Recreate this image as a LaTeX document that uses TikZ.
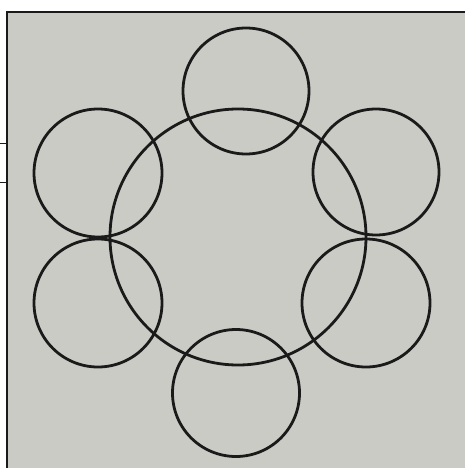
\documentclass[tikz,border=0pt]{standalone}
\usepackage{tikz}
\definecolor{Board}{HTML}{CBCBC6}
\definecolor{Ink}{HTML}{1A1A1A}
\tikzset{ring/.style={draw=Ink,circle,line width=2.8pt,inner sep=0pt},frame/.style={draw=Ink,line width=1.6pt}}

\begin{document}
\begin{tikzpicture}[x=1pt,y=-1pt]
\useasboundingbox (0,0) rectangle (465,468);
\fill[Board] (7,12) rectangle (465,468);
\draw[frame] (7,468) -- (7,12) -- (465,12);
\draw[frame,line width=1pt] (0,143) -- (7,143);
\draw[frame,line width=1pt] (0,182) -- (7,182);
\node[ring,minimum size=256pt] (hub) at (238,237) {};
\node[ring,minimum size=126pt] (top) at (246,91) {};
\node[ring,minimum size=128pt] (upleft) at (98,173) {};
\node[ring,minimum size=126pt] (upright) at (376,172) {};
\node[ring,minimum size=128pt] (lowleft) at (98,303) {};
\node[ring,minimum size=128pt] (lowright) at (366,303) {};
\node[ring,minimum size=127pt] (bottom) at (236,393) {};
\end{tikzpicture}
\end{document}
